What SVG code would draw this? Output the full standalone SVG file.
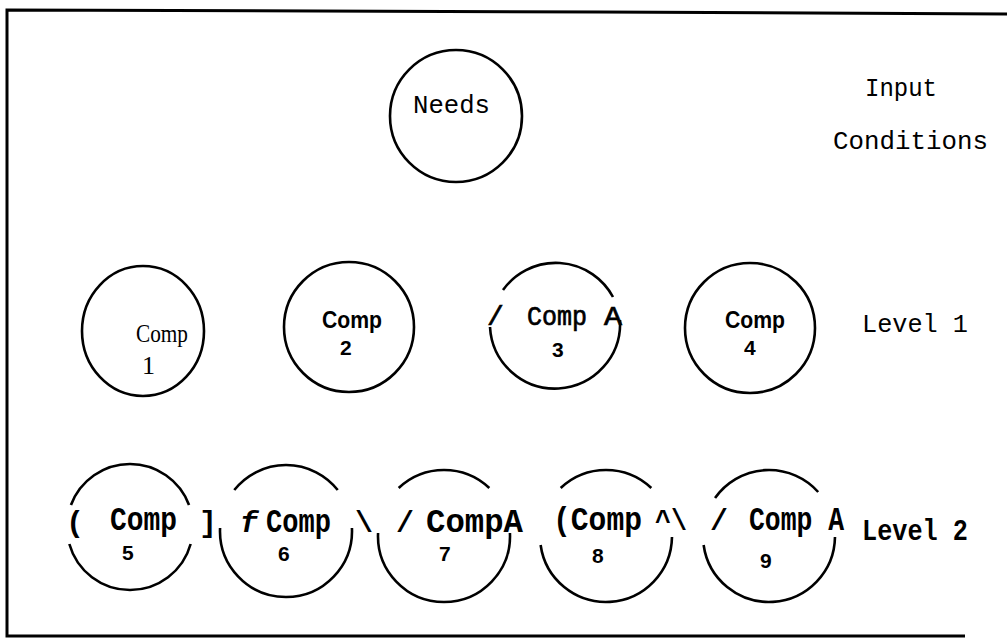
<svg xmlns="http://www.w3.org/2000/svg" width="1007" height="638" viewBox="0 0 1007 638">
  <style>
    .ring { fill: none; stroke: #000; stroke-width: 2.6; }
    .frame { fill: none; stroke: #000; stroke-width: 3; }
    .mono { font-family: "Liberation Mono", "Courier New", monospace; font-size: 26px; fill: #000; }
    .serif { font-family: "Liberation Serif", "Times New Roman", serif; font-size: 26px; fill: #000; }
    .bsans { font-family: "Liberation Sans", Arial, sans-serif; font-weight: bold; font-size: 24px; fill: #000; }
    .num { font-family: "Liberation Sans", Arial, sans-serif; font-weight: bold; font-size: 21px; fill: #000; }
    .bmono { font-family: "Liberation Mono", "Courier New", monospace; font-weight: bold; font-size: 30px; fill: #000; }
    .tall { font-size: 33px; }
    .mid { font-family: "Liberation Mono", "Courier New", monospace; font-size: 28px; fill: #000; stroke: #000; stroke-width: 0.7; }
  </style>
  <rect width="1007" height="638" fill="#fff"/>

  <!-- outer frame -->
  <g id="frame">
    <path class="frame" d="M1007,14 L600,12 L7,10 L7,636 L965,636"/>
  </g>

  <!-- no connectors are drawn between the components -->
  <g id="connectors"></g>

  <!-- top: needs -->
  <g id="needs">
    <circle class="ring" cx="456" cy="116" r="66"/>
    <text class="mono" x="413" y="113" font-size="28" textLength="77" lengthAdjust="spacingAndGlyphs">Needs</text>
  </g>

  <g id="label-input">
    <text class="mono" x="865" y="96" textLength="72" lengthAdjust="spacingAndGlyphs">Input</text>
    <text class="mono" x="833" y="149" textLength="155" lengthAdjust="spacingAndGlyphs">Conditions</text>
  </g>

  <!-- level 1 -->
  <g id="comp1">
    <ellipse class="ring" cx="143" cy="331" rx="61" ry="65"/>
    <text class="serif" x="136" y="342" textLength="52" lengthAdjust="spacingAndGlyphs">Comp</text>
    <text class="serif" x="142" y="374">1</text>
  </g>

  <g id="comp2">
    <circle class="ring" cx="349" cy="327" r="65"/>
    <text class="bsans" x="322" y="328" textLength="60" lengthAdjust="spacingAndGlyphs">Comp</text>
    <text class="num" x="340" y="355">2</text>
  </g>

  <g id="comp3">
    <path class="ring" d="M503,290 A65,65 0 0 1 613,297"/>
    <path class="ring" d="M490,327 A65,65 0 1 0 620,320"/>
    <text class="mid" x="487" y="325">/</text>
    <text class="mid" x="527" y="325" textLength="60" lengthAdjust="spacingAndGlyphs">Comp</text>
    <text class="mid" x="604" y="325" textLength="18" lengthAdjust="spacingAndGlyphs">A</text>
    <text class="num" x="552" y="357">3</text>
  </g>

  <g id="comp4">
    <circle class="ring" cx="750" cy="328" r="65"/>
    <text class="bsans" x="725" y="328" textLength="60" lengthAdjust="spacingAndGlyphs">Comp</text>
    <text class="num" x="744" y="355">4</text>
  </g>

  <g id="label-level1">
    <text class="mono" x="862" y="332" textLength="106" lengthAdjust="spacingAndGlyphs">Level 1</text>
  </g>

  <!-- level 2 -->
  <g id="comp5">
    <path class="ring" d="M70.97,505 A63,63 0 0 1 189.03,505"/>
    <path class="ring" d="M69.34,544 A63,63 0 0 0 190.66,544"/>
    <text class="bmono" x="66" y="532">(</text>
    <text class="bmono tall" x="110" y="530" textLength="67" lengthAdjust="spacingAndGlyphs">Comp</text>
    <text class="bmono" x="199" y="532">]</text>
    <text class="num" x="122" y="560">5</text>
  </g>

  <g id="comp6">
    <path class="ring" d="M234.28,490 A66,66 0 0 1 337.72,490"/>
    <path class="ring" d="M220.07,528 A66,66 0 1 0 351.93,528"/>
    <text class="bmono" x="240" y="532" font-style="italic" font-family="Liberation Serif, serif">f</text>
    <text class="bmono tall" x="266" y="532" textLength="65" lengthAdjust="spacingAndGlyphs">Comp</text>
    <text class="bmono" x="355" y="532">\</text>
    <text class="num" x="278" y="561">6</text>
  </g>

  <g id="comp7">
    <path class="ring" d="M398.7,488 A66,66 0 0 1 489.3,488"/>
    <path class="ring" d="M378.07,533 A66,66 0 1 0 509.93,533"/>
    <text class="bmono" x="396" y="532">/</text>
    <text class="bmono tall" x="426" y="532" textLength="97" lengthAdjust="spacingAndGlyphs">CompA</text>
    <text class="num" x="439" y="561">7</text>
  </g>

  <g id="comp8">
    <path class="ring" d="M560.7,488 A66,66 0 0 1 651.3,488"/>
    <path class="ring" d="M540.62,545 A66,66 0 0 0 671.99,537"/>
    <text class="bmono tall" x="553" y="530" textLength="89" lengthAdjust="spacingAndGlyphs">(Comp</text>
    <text class="bmono" x="655" y="530" textLength="32" lengthAdjust="spacingAndGlyphs">^\</text>
    <text class="num" x="592" y="563">8</text>
  </g>

  <g id="comp9">
    <path class="ring" d="M715.04,498 A66,66 0 0 1 818.19,492"/>
    <path class="ring" d="M703.62,545 A66,66 0 0 0 834.99,537"/>
    <text class="bmono" x="710" y="530">/</text>
    <text class="bmono tall" x="749" y="530" textLength="95" lengthAdjust="spacingAndGlyphs">Comp A</text>
    <text class="num" x="760" y="568">9</text>
  </g>

  <g id="label-level2">
    <text class="bmono" x="862" y="540" font-size="25" textLength="106" lengthAdjust="spacingAndGlyphs">Level 2</text>
  </g>
</svg>
